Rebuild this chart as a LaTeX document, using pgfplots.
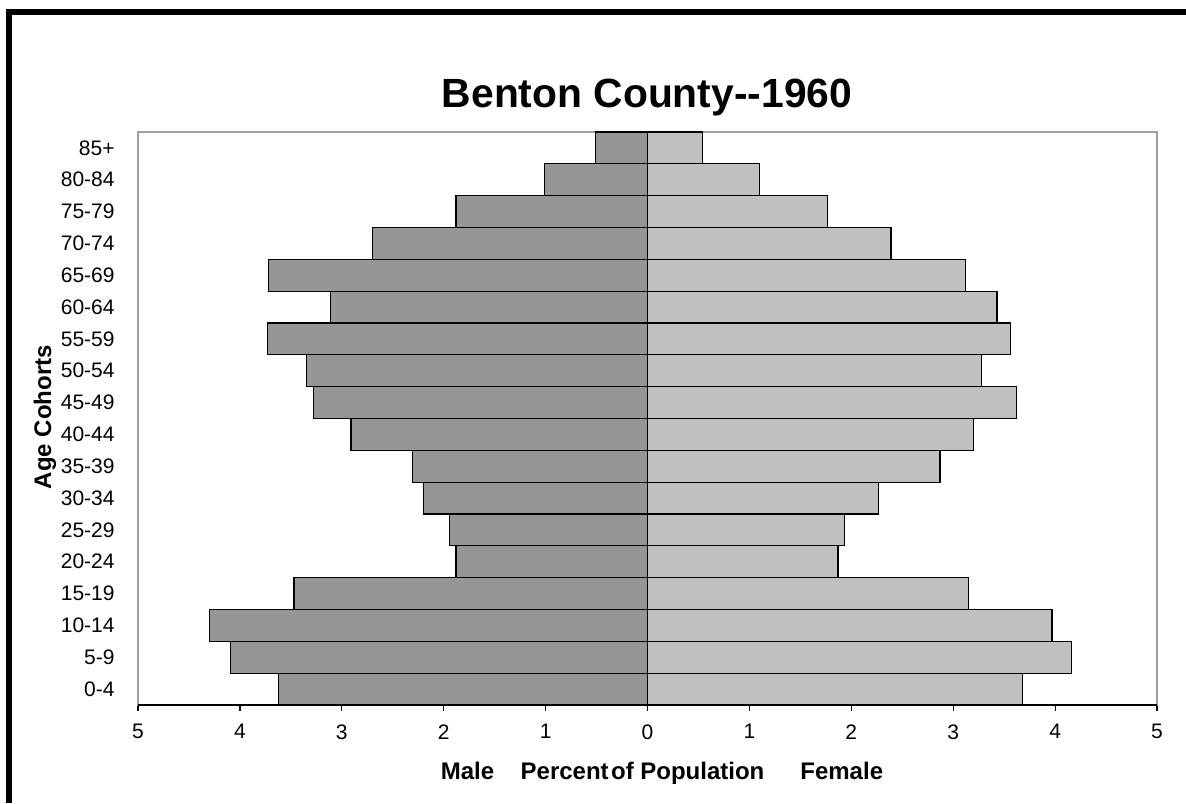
\documentclass[border=0pt]{standalone}
\usepackage{pgfplots}
\pgfplotsset{compat=1.18}
\usepackage{fontspec}
\setmainfont{Liberation Sans}
\definecolor{malec}{RGB}{150,150,150}
\definecolor{femc}{RGB}{192,192,192}
\definecolor{framec}{RGB}{160,160,160}
\begin{document}
\begin{tikzpicture}[x=1pt,y=1pt]
\useasboundingbox (0,0) rectangle (593,401.5);
\fill[black] (3,0) rectangle (6,397);
\fill[black] (3,394) rectangle (593,397);
\begin{axis}[
  at={(69pt,49pt)}, anchor=south west,
  scale only axis, width=509.5pt, height=286.5pt,
  xmin=-5, xmax=5, ymin=-0.5, ymax=17.5,
  xbar, bar width=1, bar shift=0pt,
  axis line style={framec, line width=0.8pt},
  xtick={-5,-4,-3,-2,-1,0,1,2,3,4,5},
  xticklabels={5,4,3,2,1,0,1,2,3,4,5},
  ytick={0,...,17},
  yticklabels={0-4,5-9,10-14,15-19,20-24,25-29,30-34,35-39,40-44,45-49,50-54,55-59,60-64,65-69,70-74,75-79,80-84,85+},
  tick align=outside, xtick pos=bottom, ytick pos=left,
  major tick length=3pt,
  x tick style={black, line width=0.6pt},
  y tick style={draw=none},
  ticklabel style={font=\fontsize{10.5}{12}\selectfont},
  yticklabel style={inner sep=0pt, anchor=east, xshift=-8.5pt},
  xticklabel style={inner sep=0pt, anchor=north, yshift=-6.5pt},
  /pgf/number format/assume math mode=true,
  clip=false,
]
\addplot[draw=black, line width=0.6pt, fill=malec] coordinates {
(-3.62,0) (-4.09,1) (-4.30,2) (-3.47,3) (-1.88,4) (-1.94,5) (-2.20,6) (-2.31,7) (-2.91,8)
(-3.28,9) (-3.35,10) (-3.73,11) (-3.11,12) (-3.72,13) (-2.70,14) (-1.88,15) (-1.01,16) (-0.51,17)
};
\addplot[draw=black, line width=0.6pt, fill=femc] coordinates {
(3.68,0) (4.16,1) (3.97,2) (3.15,3) (1.87,4) (1.93,5) (2.27,6) (2.87,7) (3.20,8)
(3.62,9) (3.28,10) (3.56,11) (3.43,12) (3.12,13) (2.39,14) (1.77,15) (1.10,16) (0.54,17)
};
\draw[black, line width=0.8pt] (rel axis cs:0,0) -- (rel axis cs:1,0);
\end{axis}
\node[font=\bfseries\fontsize{20.4}{24}\selectfont] at (323.5,353) {Benton County-{}-1960};
\node[font=\bfseries\fontsize{12}{14}\selectfont] at (331,15) {Male\hspace{1.1em}Percent\hspace{0.1em}of Population\hspace{1.5em}Female};
\node[font=\bfseries\fontsize{12}{14}\selectfont, rotate=90] at (22.5,193) {Age Cohorts};
\end{tikzpicture}
\end{document}
